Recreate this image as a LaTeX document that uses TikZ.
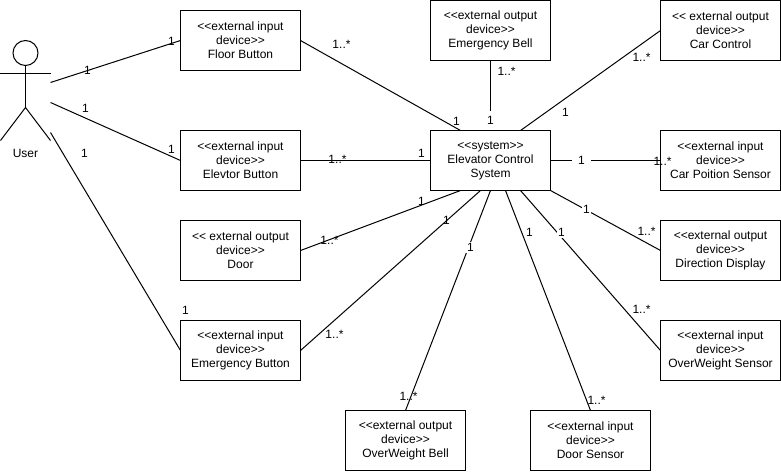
\documentclass[tikz,border=0pt]{standalone}
\usepackage{fontspec}
\setmainfont[Ligatures=TeXOff]{Liberation Sans}
\usetikzlibrary{positioning}
\tikzset{
  devbox/.style={draw,line width=1pt,minimum width=120pt,minimum height=60pt,inner sep=0pt,outer sep=0pt,align=center,font=\fontsize{12}{14}\selectfont},
  mult/.style={inner sep=0pt,font=\fontsize{12}{14}\selectfont},
  multbg/.style={mult,fill=white,inner sep=1pt},
  multgap/.style={mult,fill=white,minimum size=19pt},
  assoc/.style={line width=1pt}
}

\begin{document}
\begin{tikzpicture}[x=1pt,y=-1pt]
  \useasboundingbox (-0.5,-0.5) rectangle (780.5,470.5);

  \node[devbox] (sys) at (490,160) {<<system>>\\Elevator Control\\System};
  \node[devbox] (floorbtn) at (240,40) {<<external input\\device>>\\Floor Button};
  \node[devbox] (elevbtn) at (240,160) {<<external input\\device>>\\Elevtor Button};
  \node[devbox] (door) at (240,250) {<< external output\\device>>\\Door};
  \node[devbox] (emerbtn) at (240,350) {<<external input\\device>>\\Emergency Button};
  \node[devbox] (owbell) at (405,440) {<<external output\\device>>\\OverWeight Bell};
  \node[devbox] (doorsens) at (590,440) {<<external input\\device>>\\Door Sensor};
  \node[devbox] (emerbell) at (490,30) {<<external output\\device>>\\Emergency Bell};
  \node[devbox] (carctl) at (720,30) {<< external output\\device>>\\Car Control};
  \node[devbox] (carpos) at (720,160) {<<external input\\device>>\\Car Poition Sensor};
  \node[devbox] (dirdisp) at (720,250) {<<external output\\device>>\\Direction Display};
  \node[devbox] (owsens) at (720,350) {<<external input\\device>>\\OverWeight Sensor};

  % actor
  \draw[assoc] (25,52.5) circle (12.5);
  \draw[assoc] (25,65) -- (25,107);
  \draw[assoc] (0,73) -- (50,73);
  \draw[assoc] (0,140) -- (25,107) -- (50,140);
  \node[mult] (user) at (25,153) {User};

  \coordinate (userA) at (50,82);
  \coordinate (userB) at (50,102);
  \coordinate (userC) at (50,132);
  \coordinate (sysA) at (460,130);
  \coordinate (sysB) at (520,130);
  \coordinate (sysC) at (460,190);
  \coordinate (sysD) at (480,190);
  \coordinate (sysE) at (505,190);
  \coordinate (sysF) at (520,190);

  \draw[assoc] (userA) -- (floorbtn.west);
  \draw[assoc] (userB) -- (elevbtn.west);
  \draw[assoc] (userC) -- (emerbtn.west);
  \draw[assoc] (floorbtn.east) -- (sysA);
  \draw[assoc] (elevbtn.east) -- (sys.west);
  \draw[assoc] (door.east) -- (sysC);
  \draw[assoc] (emerbtn.east) -- (sysD);
  \draw[assoc] (owbell.north) -- (sys.south);
  \draw[assoc] (doorsens.north) -- (sysE);
  \draw[assoc] (owsens.west) -- (sysF);
  \draw[assoc] (dirdisp.west) -- (sys.south east);
  \draw[assoc] (carpos.west) -- (sys.east);
  \draw[assoc] (carctl.west) -- (sysB);
  \draw[assoc] (emerbell.south) -- (sys.north);

  \node[mult] (m1) at (87,70) {1};
  \node[mult] (m2) at (171,41) {1};
  \node[mult] (m3) at (85,108) {1};
  \node[mult] (m4) at (171,149) {1};
  \node[mult] (m5) at (84,153) {1};
  \node[mult] (m6) at (185,310) {1};
  \node[mult] (m7) at (341,44) {1..*};
  \node[mult] (m8) at (506,71) {1..*};
  \node[mult] (m9) at (641,57) {1..*};
  \node[mult] (m10) at (565,112) {1};
  \node[mult] (m11) at (456,121) {1};
  \node[multgap] (m12) at (490,120) {1};
  \node[mult] (m13) at (337,159) {1..*};
  \node[mult] (m14) at (421,153) {1};
  \node[multgap] (m15) at (581,160) {1};
  \node[mult] (m16) at (662,161) {1..*};
  \node[mult] (m17) at (421,201) {1};
  \node[mult] (m18) at (446,220) {1};
  \node[mult] (m19) at (529,232) {1};
  \node[multbg] (m20) at (561,232) {1};
  \node[multbg] (m21) at (586,209) {1};
  \node[mult] (m22) at (646,231) {1..*};
  \node[mult] (m23) at (329,240) {1..*};
  \node[mult] (m24) at (334,334) {1..*};
  \node[multbg] (m25) at (470,247) {1};
  \node[mult] (m26) at (408,396) {1..*};
  \node[mult] (m27) at (596,400) {1..*};
  \node[mult] (m28) at (641,309) {1..*};
\end{tikzpicture}
\end{document}
